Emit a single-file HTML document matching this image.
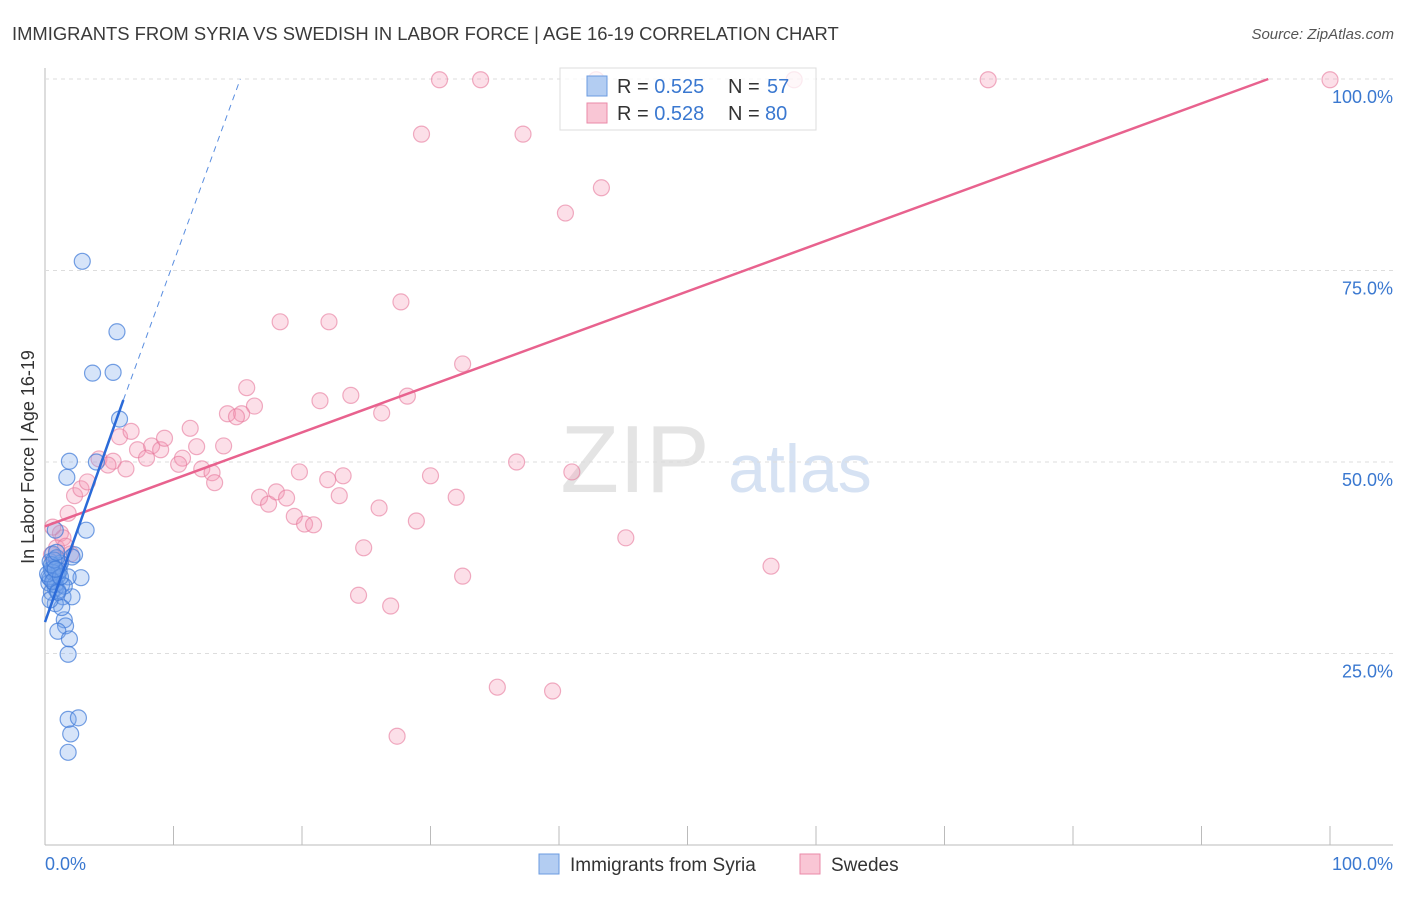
<!DOCTYPE html>
<html><head><meta charset="utf-8"><style>
body{margin:0;background:#fff;font-family:"Liberation Sans",sans-serif}
svg text{font-family:"Liberation Sans",sans-serif}
</style></head><body>
<svg id="c" width="1406" height="892">
<text x="12" y="40" font-size="18.4" fill="#3a3a3a">IMMIGRANTS FROM SYRIA VS SWEDISH IN LABOR FORCE | AGE 16-19 CORRELATION CHART</text>
<text x="1394" y="39" font-size="15" fill="#555" font-style="italic" text-anchor="end">Source: ZipAtlas.com</text>
<text x="635" y="492" font-size="96" fill="#e4e4e4" font-family="Liberation Serif" text-anchor="middle">ZIP</text>
<text x="800" y="492" font-size="68" fill="#d6e2f3" text-anchor="middle">atlas</text>
<g id="grid"></g><g id="pts"></g><g id="lines"></g>
<text transform="translate(34,457) rotate(-90)" font-size="18" fill="#333" text-anchor="middle">In Labor Force | Age 16-19</text>
<g>
<rect x="560" y="68" width="256" height="62" fill="rgba(255,255,255,0.75)" stroke="#ddd"/>
<rect x="587" y="76" width="20" height="20" fill="#b3cdf2" stroke="#6b9be0"/>
<rect x="587" y="103" width="20" height="20" fill="#f9c6d5" stroke="#ea8aa8"/>
<text x="617" y="93" font-size="20" fill="#333">R = <tspan fill="#3a78d0">0.525</tspan></text>
<text x="728" y="93" font-size="20" fill="#333">N = </text>
<text x="767" y="93" font-size="20" fill="#3a78d0">57</text>
<text x="617" y="120" font-size="20" fill="#333">R = <tspan fill="#3a78d0">0.528</tspan></text>
<text x="728" y="120" font-size="20" fill="#333">N = </text>
<text x="765" y="120" font-size="20" fill="#3a78d0">80</text>
</g>
<g>
<rect x="539" y="854" width="20" height="20" fill="#b3cdf2" stroke="#6b9be0"/>
<text x="570" y="871" font-size="19" fill="#333">Immigrants from Syria</text>
<rect x="800" y="854" width="20" height="20" fill="#f9c6d5" stroke="#ea8aa8"/>
<text x="831" y="871" font-size="19" fill="#333">Swedes</text>
</g>
</svg>
<script>
const yTicks=[25,50,75,100];
const yTickLabels=["25.0%","50.0%","75.0%","100.0%"];
const syriaX=[2.9,5.6,3.7,5.3,5.8,1.9,1.7,4.0,3.2,0.8,2.3,2.1,2.8,1.8,1.4,2.1,0.8,1.5,1.6,1.0,1.9,1.8,1.8,2.6,2.0,1.8,0.3,0.5,0.7,0.9,1.1,1.3,0.4,0.6,0.8,1.0,1.2,0.3,0.5,0.7,0.9,1.1,0.4,0.6,0.8,1.0,0.2,0.5,0.7,1.3,1.5,0.9,0.4,0.6,1.2,0.8,1.0];
const syriaY=[76.2,67.0,61.6,61.7,55.6,50.1,48.0,50.0,41.1,41.1,37.9,37.6,34.9,35.0,32.4,32.4,31.5,29.4,28.6,27.9,26.9,24.9,16.4,16.6,14.5,12.1,35.0,36.0,34.5,35.5,36.5,34.0,37.0,38.0,33.5,35.2,36.8,34.2,33.0,36.2,37.5,35.8,34.8,35.6,34.0,33.2,35.4,36.6,37.2,31.0,33.8,38.2,32.0,34.4,35.0,36.0,33.0];
const swedesX=[30.7,33.9,42.9,58.3,73.4,100,29.3,37.2,43.3,40.5,27.7,18.3,22.1,32.5,15.7,16.3,21.4,23.8,28.2,14.2,15.3,14.9,26.2,5.8,6.7,7.2,8.3,9.0,9.3,7.9,11.3,11.8,13.9,10.7,10.4,12.2,13.0,13.2,5.3,4.2,6.3,4.9,19.8,23.2,22.0,30.0,36.7,41.0,16.7,17.4,18.0,18.8,22.9,32.0,26.0,19.4,20.2,20.9,28.9,45.2,24.8,32.5,56.5,24.4,26.9,35.2,39.5,27.4,2.3,2.8,3.3,1.8,1.2,0.9,1.4,0.5,1.0,0.6,1.6,2.0];
const swedesY=[99.9,99.9,99.9,99.9,99.9,99.9,92.8,92.8,85.8,82.5,70.9,68.3,68.3,62.8,59.7,57.3,58.0,58.7,58.6,56.3,56.3,55.9,56.4,53.3,54.0,51.6,52.1,51.6,53.1,50.5,54.4,52.0,52.1,50.5,49.7,49.1,48.6,47.3,50.1,50.4,49.1,49.6,48.7,48.2,47.7,48.2,50.0,48.7,45.4,44.5,46.1,45.3,45.6,45.4,44.0,42.9,41.9,41.8,42.3,40.1,38.8,35.1,36.4,32.6,31.2,20.6,20.1,14.2,45.6,46.5,47.4,43.3,40.7,38.8,40.1,37.9,37.2,41.5,39.0,38.0];
const syriaLine=[[0,29.1],[6.1,58.1],[15.2,100]];
const swedesLine=[[0,41.6],[95.2,100]];
const sx=v=>45+v*12.85, sy=v=>845-v*7.66;
const NS="http://www.w3.org/2000/svg";
function mk(t,a,p){const e=document.createElementNS(NS,t);for(const k in a)e.setAttribute(k,a[k]);p.appendChild(e);return e;}
const g=document.getElementById('grid');
const ax=mk('line',{x1:45,y1:68,x2:45,y2:845,stroke:'#bbb'},g);


const bx=mk('line',{x1:45,y1:845,x2:1393,y2:845,stroke:'#bbb'},g);


yTicks.forEach((t,i)=>{
 const l=mk('line',{x1:45,y1:sy(t),x2:1393,y2:sy(t),stroke:'#ddd','stroke-dasharray':'4,4'},g);
 
 
 const tx=mk('text',{x:1393,y:sy(t)+24,'font-size':18,fill:'#3a78d0','text-anchor':'end'},g);
 tx.textContent=yTickLabels[i];
 
 
});
for(let i=0;i<=10;i++){
 const l=mk('line',{x1:sx(i*10),y1:826,x2:sx(i*10),y2:845,stroke:'#bbb'},g);
 
 
}
const x0=mk('text',{x:45,y:870,'font-size':18,fill:'#3a78d0'},g);x0.textContent='0.0%';


const x1=mk('text',{x:1393,y:870,'font-size':18,fill:'#3a78d0','text-anchor':'end'},g);x1.textContent='100.0%';


const P=document.getElementById('pts');
swedesX.forEach((x,i)=>{
 const c=mk('circle',{cx:sx(x),cy:sy(swedesY[i]),r:8,fill:'rgba(244,150,180,0.3)',stroke:'rgba(230,120,155,0.6)','stroke-width':1.2},P);
 
 
});
syriaX.forEach((x,i)=>{
 const c=mk('circle',{cx:sx(x),cy:sy(syriaY[i]),r:8,fill:'rgba(120,165,235,0.3)',stroke:'rgba(60,120,215,0.7)','stroke-width':1.2},P);
 
 
});
const L=document.getElementById('lines');
const sl=mk('line',{x1:sx(swedesLine[0][0]),y1:sy(swedesLine[0][1]),x2:sx(swedesLine[1][0]),y2:sy(swedesLine[1][1]),stroke:'#e8628e','stroke-width':2.5},L);


const bl=mk('line',{x1:sx(syriaLine[0][0]),y1:sy(syriaLine[0][1]),x2:sx(syriaLine[1][0]),y2:sy(syriaLine[1][1]),stroke:'#2a6ad8','stroke-width':2.5},L);


const bd=mk('line',{x1:sx(syriaLine[1][0]),y1:sy(syriaLine[1][1]),x2:sx(syriaLine[2][0]),y2:sy(syriaLine[2][1]),stroke:'#5a8ee0','stroke-width':1,'stroke-dasharray':'6,5'},L);


</script>
</body></html>
